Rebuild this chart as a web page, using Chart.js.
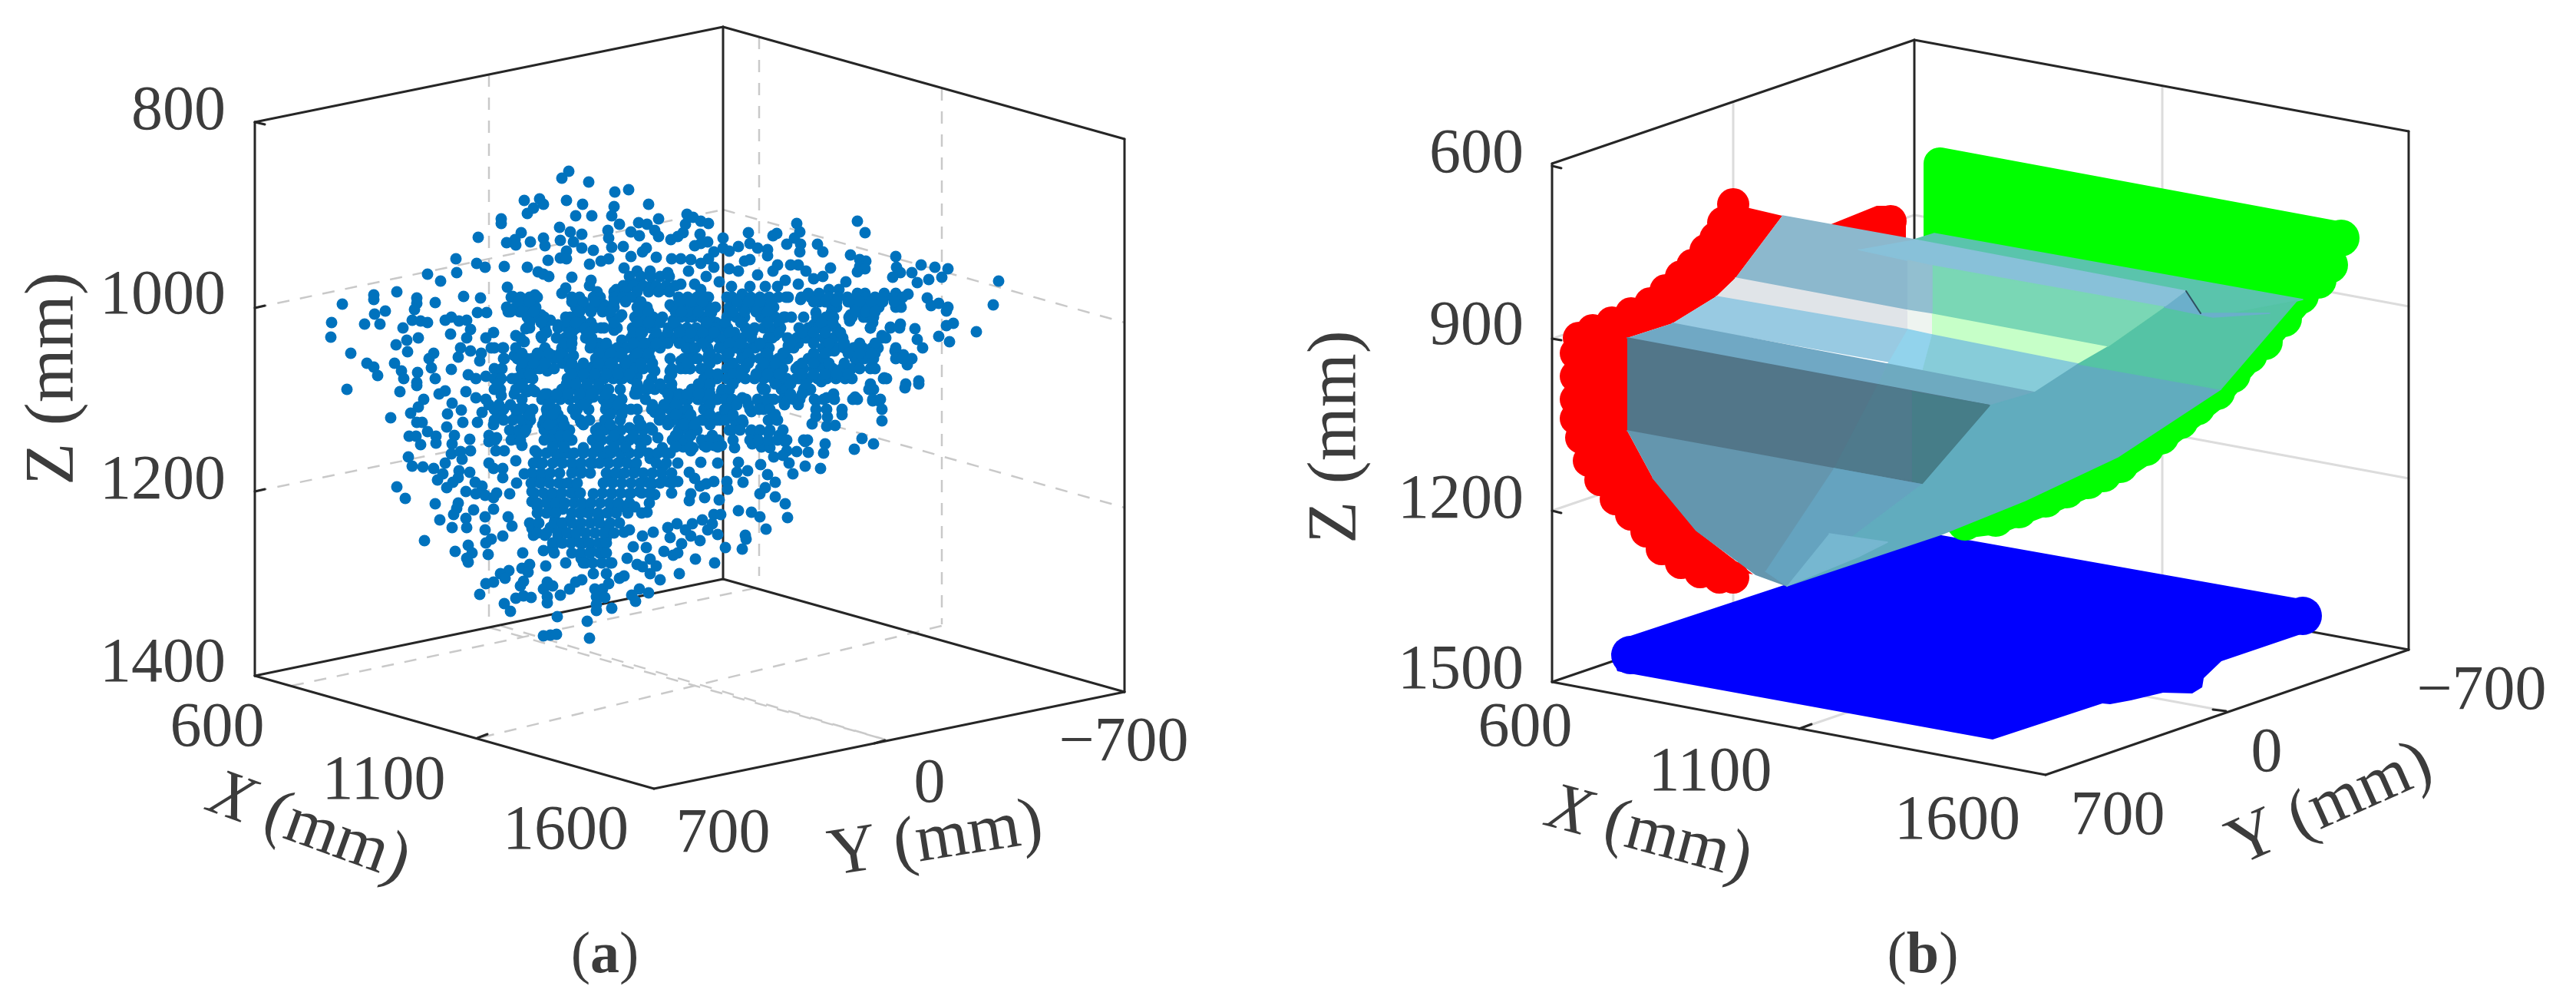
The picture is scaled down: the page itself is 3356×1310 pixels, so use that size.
<!DOCTYPE html>
<html><head><meta charset="utf-8">
<style>html,body{margin:0;padding:0;background:#fff}canvas{position:absolute;top:0}#a{left:0}#b{left:1678px}</style>
<script src="https://cdn.jsdelivr.net/npm/chart.js@4"></script></head>
<body><canvas id="a" width="1678" height="1310"></canvas><canvas id="b" width="1678" height="1310"></canvas>
<script>
const cloudTop=[741,223,732,232,767,237,801,250,819,247,845,266,683,261,703,259,708,266,695,271,687,278,738,261,759,266,800,269,750,281,771,281,797,281,807,292,858,285,832,290,843,292,653,285,653,291,729,296,743,302,758,305,792,300,822,302,833,307,853,300,858,308,874,312,679,303,671,312,660,316,672,319,691,315,708,310,710,320,730,313,747,315,793,310,623,309,758,323,773,326,812,321,797,322,842,323,738,327,730,336,738,337,714,339,783,340,793,337,768,344,822,334,855,335,837,328,875,337,594,337,621,343,632,348,657,347,687,348,595,355,557,357,574,366,701,354,708,357,715,360,745,361,770,365,813,349,830,353,847,353,870,355,833,367,517,380,487,384,487,390,446,396,661,374,668,386,682,390,697,384,695,393,604,386,626,388,543,388,543,395,567,394,737,375,732,382,768,372,778,380,748,390,775,388,803,377,817,373,807,387,847,373,863,377,827,370];
const cloudLeft=[502,405,488,409,540,403,495,422,475,422,432,420,431,439,457,460,525,427,537,417,548,418,557,420,580,417,588,413,598,418,608,417,587,435,613,429,608,440,545,440,530,443,516,449,531,458,565,460,559,467,562,479,588,481,514,473,478,473,487,478,492,489,523,483,526,493,544,485,543,498,567,493,622,407,634,407,662,406,677,406,690,410,705,410,717,417,727,423,685,428,672,437,683,445,705,438,725,440,643,433,633,440,600,453,597,465,613,457,627,460,640,453,655,453,625,470,657,467,670,463,680,467,693,467,708,457,720,463,733,457,743,440,743,413,757,417,770,420,783,427,800,430,810,410,800,400,787,397,763,400,747,430,763,430,780,447,793,457,810,463,827,457,837,433,833,413,847,420,857,417,837,400,827,387,873,397,877,417,863,440,860,453,873,467,847,467,813,477,793,483,773,477,753,480,740,493,713,483,697,480,680,487,667,493,650,487,650,497,633,490,610,488,620,493,763,493,783,493,807,493,830,490,853,483,873,483,713,463,733,473,747,463,823,473,847,447,830,443,810,443];
const cloudRight=[895,279,903,283,913,288,923,291,893,292,890,303,883,308,912,305,913,317,905,320,922,315,942,310,942,323,950,327,930,328,962,321,975,303,977,317,987,323,1007,307,1012,304,1000,325,1000,333,1038,291,1042,302,1035,310,1025,318,1043,318,1042,328,1065,318,1072,328,1117,288,1127,303,1108,332,1120,338,1128,340,1120,347,1127,350,1117,354,1167,334,1168,348,1173,355,1163,361,1188,355,1200,345,1218,348,1235,350,1227,361,1210,364,1195,368,1301,366,1294,397,1183,383,1208,388,1213,398,1223,395,1235,400,1233,405,1242,421,1233,424,1272,432,1223,438,1237,445,1192,428,1173,422,1160,426,1149,437,1195,442,1202,453,1166,457,1177,462,1188,467,1182,475,1136,477,1152,492,1197,496,1180,500,1134,500,1137,420,1134,427,1125,408,1108,410,1107,418,1172,395,1167,382,1152,382,1143,390,1145,400,1127,382,1117,382,1120,392,1102,367,1093,377,1080,377,1067,382,1053,382,1082,349,1072,360,1060,363,1050,353,1040,345,1030,345,1013,345,1007,353,987,358,1023,365,1040,370,1013,373,997,373,970,340,977,338,923,337,887,337,900,338,913,343,930,348,950,350,962,353,897,353,920,360,937,367,953,373,977,373,887,370,905,370,913,377,923,387,910,397,890,397,947,387,967,383,987,390,1003,397,1027,387,1043,390,1067,393,1087,393,1083,407,1082,420,1063,407,1047,413,1023,413,1000,413,967,420,950,407,927,407,903,413,887,413,890,433,910,430,937,427,957,433,980,433,1010,437,997,447,1053,433,1040,447,1027,450,1060,423,1073,440,1090,438,1097,450,1113,453,1130,460,1140,460,1080,457,1087,457,1053,467,1040,477,1067,473,1083,483,1100,482,1118,473,1107,492,1070,497,1050,493,1037,493,1023,467,1010,493,993,480,970,480,953,490,967,460,980,453,997,463,947,460,923,463,900,460,887,470,913,480,893,480,940,447,917,447,897,447,933,420];
const cloudLowerLeft=[452,507,521,510,572,513,580,509,543,502,607,510,620,518,552,520,545,530,535,538,509,544,543,550,550,550,589,525,601,534,583,539,603,550,582,556,622,550,628,537,637,527,633,520,653,515,670,513,687,510,650,537,680,530,673,540,690,542,643,553,653,543,667,562,687,553,683,563,557,562,568,568,568,577,533,568,542,568,548,579,592,567,589,578,612,572,613,587,588,591,600,588,602,598,637,567,637,575,647,570,646,587,657,587,672,572,680,580,672,600,697,587,532,595,537,607,551,608,565,610,580,603,577,617,570,625,598,613,597,622,612,615,590,628,582,635,637,603,643,610,655,610,655,622,673,629,683,617,702,603,517,634,528,649,567,656,619,628,628,633,607,640,620,643,632,645,647,642,643,648,664,643,597,655,595,662,591,670,617,664,607,675,643,663,632,673,662,673,573,677,589,687,608,687,632,690,667,685,655,698,640,702,633,707,553,704,593,718,610,710,615,720,608,727,610,732,636,722,681,720,663,743,652,747,658,753,643,758,633,760,680,740,690,735,688,745,682,757,678,763,672,779,682,776,692,778,625,774,657,786,665,796];
const cloudLowerMid=[711,737,737,733,713,758,708,767,720,763,713,777,713,785,730,775,742,767,750,758,758,755,726,803,765,809,708,828,717,827,725,826,768,831,775,767,785,767,777,777,788,778,777,787,777,795,797,792,793,760,807,753,813,750,823,775,828,783,833,767,845,772,860,755,847,747,837,738,830,735,855,737,847,728,817,727,825,712,842,713,865,718,877,723,797,733,790,747,773,747,763,733,757,727,783,717,770,717,790,700,760,707,747,703,733,707,720,713,708,717,727,697,695,697,693,688,710,697,717,687,733,690,753,687,723,677,743,677,763,667,700,660,717,657,733,663,713,647,693,653,693,640,727,647,697,627,713,623,750,643,747,633,733,630,757,613,747,607,773,643,767,663,793,667,803,663,780,673,790,687,813,693,820,690,837,698,851,693,797,643,813,660,827,660,843,667,853,644,833,640,820,643,797,623,810,600,790,600,773,603,827,610,840,627,850,630,870,627,863,608,847,597,810,617,777,580,793,587,740,590,727,600,723,577,713,567,743,573,760,583,857,570,863,583,873,590,870,687,873,700,727,557,740,563,707,553,727,540,713,537,757,550,780,557,800,563,820,557,837,573,847,557,873,550,873,533,853,537,830,533,810,520,793,527,773,517,757,527,733,517,713,513,697,510,827,513,873,513,760,507,793,507,843,507];
const cloudLowerRight=[993,505,1020,503,1037,520,1052,508,1063,522,1077,518,1086,513,1114,517,1135,505,1137,522,1145,522,1179,505,1197,500,1097,540,1149,548,1063,542,1058,552,1078,543,1077,555,1088,554,1022,527,1003,520,990,525,995,533,979,536,1002,547,1012,547,967,518,953,522,968,550,960,553,950,560,978,562,987,563,1001,563,1015,567,1023,575,1049,575,1075,578,1123,571,1138,578,1113,585,1053,589,1073,590,1038,588,1025,587,980,578,992,582,1003,583,1008,595,1020,593,1028,603,1049,607,1069,610,1033,617,957,583,962,602,991,605,960,615,974,613,968,628,1000,618,1010,628,997,635,990,643,1010,647,1023,656,1026,674,962,665,979,667,990,673,998,689,971,697,972,702,967,715,945,713,947,627,948,637,930,627,920,630,912,633,905,623,898,615,937,651,918,648,900,643,898,652,930,670,939,670,915,677,928,682,922,690,935,696,902,682,893,690,900,698,912,704,888,708,883,720,906,728,931,733,885,747,882,682,935,603,940,580,928,567,930,580,917,580,903,583,890,582,913,602,900,587,883,603,883,627,887,573,898,560,887,553,917,547,937,543,943,543,893,537,923,533,887,520,913,513,940,510,950,508,900,510,930,547];
// dense core of the cloud, read row by row from the crops: one row height, then the dot centres on it
const coreRowY=[360,372,380,387,400,413,427,440,453,467,480,493,507,520,533,547,560,573,590,603,616,629,642,655,668,681,694,707,720,733,387,400,413,427,440,453,467,480,493,507,520,533,547,560,573,393,406,420,433,447,460,473,487,500,513,527,540,553,567,582];
const coreRowX=[
[820,835,848,860,872],[812,825,838,855,868,880],[800,815,830,845,858,872],
[666,678,690,700,745,755,773,782,800,811,821,884,896,908,920],
[660,672,684,698,750,762,774,786,798,830,843,876,888,900,912,924,932],
[687,699,709,737,749,797,807,827,839,851,863,882,917,925],
[690,710,727,739,751,763,775,787,799,804,824,836,848,871,883,895,907,919,931],
[678,706,736,745,763,771,822,834,852,864,876,888,900,912,924,936],
[644,656,672,710,732,744,769,778,792,804,816,828,840,848,897,904,921,937],
[656,674,686,698,710,722,734,742,776,788,800,812,824,836,846,892,902,922,934],
[644,654,679,691,703,715,722,742,754,766,778,790,802,814,826,838,850,875,899,917],
[644,653,672,684,694,739,751,763,775,787,799,811,823,849,872,922,934],
[644,652,672,684,693,732,744,756,768,780,791,808,829,841,853,865,875,906,918],
[680,706,718,730,742,754,766,786,798,810,841,872,884,892,909,921,933],
[644,656,672,684,694,712,724,746,752,767,789,801,813,822,849,861,873,885,895,918],
[644,656,668,680,691,709,721,733,756,768,788,808,832,859,871,883,895,902,922,934],
[664,676,685,709,721,733,742,776,788,800,809,826,838,850,886,898,908],
[645,666,678,709,721,733,745,772,784,796,808,820,832,842,876,888,896,926,936],
[700,712,724,736,748,760,772,784,796,808,820,832,845,857,868],
[695,707,720,733,745,757,769,781,793,805,817,829,855,868],
[693,705,717,729,745,757,769,790,802,814,826,838,850,862,875],
[692,704,716,728,740,752,786,798,810,822,834,846,860,875],
[696,708,720,732,744,756,785,797,809,822,836,846,875],
[700,712,724,736,748,758,770,782,794,806,820,846],
[700,712,724,745,755,767,779,791,803,818,836],
[690,702,722,733,745,757,769,781,795,807],
[700,712,727,739,751,763,775,787,800],
[720,732,744,756,768,780,790],
[722,745,757,769,781,790],
[760,772,784,795],
[954,966,978,990,1002,1014,1024,1044,1056,1068,1080,1092,1104,1116,1128,1140,1152,1164,1176],
[950,967,979,991,1003,1008,1084,1090,1114,1126,1138,1144,1167,1174],
[896,914,920,947,959,970,991,1003,1010,1021,1031,1064,1076,1086,1106,1110,1125,1129,1138],
[944,948,971,983,995,1004,1017,1041,1053,1065,1077,1089,1134,1160,1172],
[944,956,968,979,1001,1006,1026,1038,1050,1062,1074,1086,1098,1149,1154],
[894,906,922,940,960,972,984,996,1002,1027,1034,1072,1084,1090,1100,1112,1124,1136,1144,1167],
[891,903,909,922,934,948,966,978,990,1002,1014,1026,1054,1066,1074,1114,1126,1138,1167,1176],
[887,899,914,920,947,959,970,991,1000,1011,1020,1037,1047,1061,1073,1085,1097,1109,1120,1134,1140],
[917,921,947,959,971,983,995,1007,1019,1025,1041,1053,1065,1077,1089,1101,1110,1151,1155],
[901,913,924,941,950,994,997,1018,1024,1047,1056,1132,1138],
[884,896,911,923,935,945,954,972,987,999,1008,1020,1026,1034,1042,1061,1073,1087,1111,1117,1137,1147],
[884,896,917,921,944,948,977,989,1003,1063,1077,1097,1149],
[884,894,914,926,938,945,957,967,1001,1013],
[884,896,904,953,964,979,990,1003,1020],
[884,892,914,922,955,977,988,1001,1013,1025,1047,1052],
[675,690,745,760,775,800,815,835,885,900,915,960,975,990,1005,1060,1075,1090,1105,1120,1135,1150,1165],
[665,680,695,755,770,785,795,832,845,880,895,910,925,888,955,970,985,1000,1115,1128,1140],
[690,705,740,750,800,830,845,860,878,920,945,965,1000,1015,1070,1085],
[712,742,768,825,835,855,870,885,900,915,930,950,975,1015,1045,1060,1075,1095],
[735,745,770,790,825,840,855,870,885,915,950,965,990,1030,1060,1080,1100,1120,1140],
[680,700,715,730,780,795,810,830,845,925,950,975,1000,1020,1060,1075,1105,1120,1135],
[680,695,710,745,760,780,795,815,835,850,895,925,955,975,995,1010,1045,1060,1080,1100],
[680,690,745,760,775,790,805,820,875,925,935,955,965,985,1000,1015,1045,1060,1075,1090,1105],
[648,680,738,750,765,780,830,845,860,875,910,925,955,1010,1030,1050],
[710,725,740,755,770,790,830,870,885,910,925,895,1030,1045],
[650,665,715,760,790,805,850,865,880,925,960,975,1040],
[690,720,750,795,810,860,880,900,925,955,1010],
[715,735,760,795,835,870,890,905,925],
[730,740,780,800,825,880,900],
[720,735,780,800,815,835,880,900,920,935]];
// box, grid and tick segments for (a): x1,y1,x2,y2
const frameA=[332,159,942,35,942,35,1465,181,332,159,332,880,942,35,942,754,1465,181,1465,901,332,880,852,1027,852,1027,1465,901,332,880,942,754,942,754,1465,901];
const tickA=[332,159,345,162,332,401,345,398,332,640,345,637,622,961,635,956,1153,964,1139,968];
const gridA=[332,401,942,273,942,273,1465,420,332,640,942,514,942,514,1465,661,637,97,637,817,989,48,989,750,1227,115,1227,813,628,960,1227,815,653,815,1153,963,380,893,988,765,637,817,1153,963];
// ---- Panel (b)
const frameB=[2022,213,2494,52,2494,52,3138,171,2022,213,2022,888,2494,52,2494,727,3138,171,3138,846,2022,888,2665,1009,2665,1009,3138,846,2022,888,2494,727,2494,727,3138,846];
const tickB=[2022,216,2034,219,2022,441,2034,443,2022,665,2034,668,2344,949,2360,943,2900,926,2883,924];
const gridB=[2022,441,2494,280,2494,280,3138,399,2022,665,2494,504,2494,504,3138,623,2258,133,2258,808,2817,112,2817,787,2344,949,2817,787,2900,926,2258,808];
const bluePlane=[2112,832,2524,696,3009,782,3024,802,3009,822,2894,861,2871,883,2869,895,2856,903,2818,902,2776,912,2749,917,2739,916,2596,963,2107,874,2099,851];
const blueRim=[2124,853,3000,802];
const greenPlane=[2527,213,3050,310,3025,335,2997,385,2930,462,2888,510,2840,548,2795,583,2762,605,2720,626,2665,650,2600,675,2560,680,2527,660,2527,213];
const greenRim=[3050,310,3035,345,3020,365,2997,385,2975,415,2950,445,2930,462,2908,488,2888,510,2862,530,2840,548,2815,568,2795,583,2762,605,2740,617,2720,626,2692,638,2665,650,2630,664,2600,675,2560,680];
const redPlane=[2258,266,2245,290,2235,310,2222,326,2205,345,2190,360,2170,378,2150,395,2125,408,2100,420,2075,430,2057,440,2053,460,2053,490,2053,520,2053,545,2060,570,2070,600,2085,625,2105,650,2125,670,2145,692,2165,715,2190,733,2215,745,2240,752,2258,752,2268,745,2284,748,2210,691,2153,622,2120,561,2120,440,2179,421,2236,386,2261,362,2322,281,2383,293,2445,268,2470,268,2483,290,2483,316,2322,281,2258,266];
const redRim=[2258,266,2245,290,2235,310,2222,326,2205,345,2190,360,2170,378,2150,395,2125,408,2100,420,2075,430,2057,440,2053,460,2053,490,2053,520,2053,545,2060,570,2070,600,2085,625,2105,650,2125,670,2145,692,2165,715,2190,733,2215,745,2240,752,2258,752,2463,288];
// envelope surface, facet by facet, back to front
const facetColors=['#8cb8cd','#5ac4ac','#88c1d9','#7ad7b5','#92bfd0','#e0e4e8','#eef4f0','#c6ffc8','#98cae2','#92d3ec','#87ccd9','#70a8c4','#6eaac0','#527689','#4f7a8c','#467d88','#6496ae','#65a3bf','#61acbe','#55c3a5','#6bafcb','#76b7d0'];
const facetOutlines=[
[2322,281,2494,312,2517,346,2485,404,2261,362],
[2494,312,2520,304,3000,390,2992,392,2893,411,2867,408,2848,379],
[2494,312,2848,379,2820,400,2517,346,2421,325],
[2517,346,2820,400,2746,452,2517,409],
[2485,339,2517,346,2517,409,2485,404],
[2261,362,2485,404,2485,429,2236,386],
[2485,404,2517,409,2517,436,2485,429],
[2517,409,2746,452,2708,474,2517,436],
[2236,386,2485,429,2472,473,2179,421],
[2485,429,2517,436,2504,484,2459,474],
[2517,436,2708,474,2651,511,2504,484],
[2179,421,2459,474,2446,501,2120,440],
[2459,474,2651,511,2593,528,2446,501],
[2120,440,2593,528,2504,631,2120,561],
[2446,501,2491,510,2491,626,2389,610],
[2491,510,2593,528,2504,631,2491,626],
[2120,561,2504,631,2328,763,2287,748,2210,691,2153,622],
[2389,610,2504,631,2328,763,2300,744],
[2593,528,2651,511,2708,474,2893,507,2759,595,2638,652,2529,696,2328,763,2504,631],
[2820,400,2867,408,2893,411,2992,392,2893,507,2708,474,2746,452],
[2848,379,2867,408,2957,408,2883,413,2820,400],
[2383,695,2459,706,2421,725,2328,763]];
const facetCrease=[2848,379,2867,408];
// ---- Text
const zTicksA=['800','1000','1200','1400'], zTickYA=[146,386,627,865];
const xTicksA=['600','1100','1600'], xTickPosA=[283,949,500,1018,737,1083];
const yTicksA=['700','0','\u2212700'], yTickPosA=[942,1087,1211,1022,1464,968];
const zTicksB=['600','900','1200','1500'], zTickYB=[202,426,652,874];
const xTicksB=['600','1100','1600'], xTickPosB=[1987,949,2228,1007,2550,1070];
const yTicksB=['700','0','\u2212700'], yTickPosB=[2759,1064,2953,982,3233,901];
const FONT='"Liberation Serif"';
const INK='#3c3c3c';
function pairs(a){const o=[];for(let i=0;i<a.length;i+=2)o.push({x:a[i],y:a[i+1]});return o;}
function base(){return{pointRadius:0,pointHoverRadius:0,tension:0,fill:false,borderWidth:0};}
function segs(a,color,w,dash){const r=[];for(let i=0;i<a.length;i+=4){r.push(Object.assign(base(),{type:'line',data:pairs(a.slice(i,i+4)),borderColor:color,borderWidth:w,borderDash:dash||[],borderCapStyle:dash?'butt':'round'}));}return r;}
function poly(a,color,border){return Object.assign(base(),{type:'line',data:pairs(a),backgroundColor:color,borderColor:border?color:'transparent',borderWidth:border||0,borderJoinStyle:'round',borderCapStyle:'round',fill:{target:'shape'}});}
function dots(a,color,r){return Object.assign(base(),{type:'line',showLine:false,data:pairs(a),pointRadius:r,pointHoverRadius:r,pointBackgroundColor:color,pointBorderWidth:0,pointBorderColor:color});}
function makeLabels(list){return{id:'labels',afterDatasetsDraw(c){const g=c.ctx,X=c.scales.x,Y=c.scales.y;g.save();g.fillStyle=INK;g.textBaseline='middle';for(const L of list){const parts=L.parts,px=X.getPixelForValue(L.x),py=Y.getPixelForValue(L.y);let w=0;for(const p of parts){g.font=(p.s||'')+' '+L.size+'px '+FONT;w+=g.measureText(p.t).width;}g.save();g.translate(px,py);g.rotate((L.rot||0)*Math.PI/180);let cx=L.align==='right'?-w:-w/2;g.textAlign='left';for(const p of parts){g.font=(p.s||'')+' '+L.size+'px '+FONT;g.fillText(p.t,cx,0);cx+=g.measureText(p.t).width;}g.restore();}g.restore();}};}
function txt(t,x,y,align,size){return{parts:[{t}],x,y,align:align||'center',size:size||82};}
function tickSet(names,pos){return names.map((t,i)=>txt(t,pos[2*i],pos[2*i+1]));}
function draw(id,xmin,xmax,datasets,labels){datasets.forEach((d,i)=>{d.order=-i;});new Chart(document.getElementById(id),{type:'line',data:{datasets},plugins:[makeLabels(labels)],options:{responsive:false,animation:false,devicePixelRatio:1,events:[],layout:{padding:0,autoPadding:false},clip:false,scales:{x:{type:'linear',display:false,min:xmin,max:xmax},y:{type:'linear',display:false,min:0,max:1310,reverse:true}},plugins:{legend:{display:false},tooltip:{enabled:false},title:{display:false},filler:{drawTime:'beforeDatasetDraw',propagate:false}}}});}
const core=[];coreRowY.forEach((y,i)=>coreRowX[i].forEach(x=>core.push(x,y)));
const cloud=[].concat(cloudTop,cloudLeft,cloudRight,cloudLowerLeft,cloudLowerMid,cloudLowerRight,core);
draw('a',0,1678,[...segs(gridA,'#c9c9c9',2.5,[16,14]),...segs(frameA,'#262626',3),...segs(tickA,'#262626',3),dots(cloud,'#0072bd',7.5)],[
...zTicksA.map((t,i)=>txt(t,294,zTickYA[i],'right')),...tickSet(xTicksA,xTickPosA),...tickSet(yTicksA,yTickPosA),
{parts:[{t:'Z (mm)'}],x:71,y:493,rot:-90,size:90},
{parts:[{t:'X',s:'italic'},{t:' (mm)'}],x:403,y:1079,rot:20,size:88},
{parts:[{t:'Y'},{t:' (mm)'}],x:1219,y:1095,rot:-9,size:88},
{parts:[{t:'('},{t:'a',s:'bold'},{t:')'}],x:788,y:1246,size:76}]);
draw('b',1678,3356,[...segs(gridB,'#dcdcdc',3),...segs(frameB,'#262626',3),...segs(tickB,'#262626',3),poly(bluePlane,'#0000ff'),dots(blueRim,'#0000ff',25),poly(greenPlane,'#00ff00',42),dots(greenRim,'#00ff00',24),poly(redPlane,'#ff0000'),dots(redRim,'#ff0000',21),...facetOutlines.map((f,i)=>poly(f,facetColors[i],1.5)),...segs(facetCrease,'#2f4f5f',2)],[
...zTicksB.map((t,i)=>txt(t,1985,zTickYB[i],'right')),...tickSet(xTicksB,xTickPosB),...tickSet(yTicksB,yTickPosB),
{parts:[{t:'Z (mm)'}],x:1742,y:569,rot:-90,size:90},
{parts:[{t:'X',s:'italic'},{t:' (mm)'}],x:2149,y:1087,rot:15,size:88},
{parts:[{t:'Y'},{t:' (mm)'}],x:3036,y:1049,rot:-24,size:88},
{parts:[{t:'('},{t:'b',s:'bold'},{t:')'}],x:2505,y:1246,size:76}]);
</script></body></html>
